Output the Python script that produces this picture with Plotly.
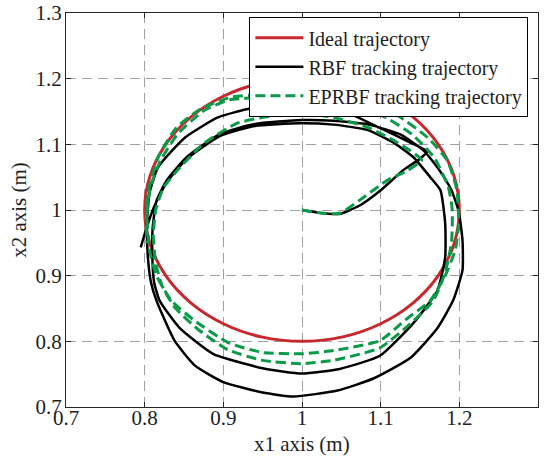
import plotly.graph_objects as go

# Ideal trajectory (circle, centre (1,1), radius 0.2)
ideal_x = [1.2, 1.1932, 1.1732, 1.1414, 1.1, 1.0518, 1.0, 0.9482, 0.9, 0.8586, 0.8268, 0.8068, 0.8,
           0.8068, 0.8268, 0.8586, 0.9, 0.9482, 1.0, 1.0518, 1.1, 1.1414, 1.1732, 1.1932, 1.2]
ideal_y = [1.0, 1.0518, 1.1, 1.1414, 1.1732, 1.1932, 1.2, 1.1932, 1.1732, 1.1414, 1.1, 1.0518, 1.0,
           0.9482, 0.9, 0.8586, 0.8268, 0.8068, 0.8, 0.8068, 0.8268, 0.8586, 0.9, 0.9482, 1.0]

# RBF tracking trajectory
rbf_x = [1.0, 1.02, 1.048, 1.075, 1.10, 1.129, 1.15, 1.159,
         1.137, 1.099, 1.052, 1.0, 0.976, 0.935, 0.893, 0.851, 0.817, 0.806,
         0.803, 0.804, 0.808, 0.815, 0.838, 0.864, 0.9, 0.95, 0.989, 1.045,
         1.09, 1.138, 1.172, 1.192, 1.204, 1.204, 1.199, 1.19, 1.175, 1.155,
         1.125, 1.085, 1.04, 1.0, 0.94, 0.896, 0.853, 0.828, 0.815, 0.81,
         0.81, 0.812, 0.819, 0.844, 0.887, 0.95, 1.0, 1.048, 1.099, 1.141,
         1.172, 1.182, 1.182, 1.176, 1.163, 1.142, 1.116, 1.083, 1.04, 0.997,
         0.94, 0.896, 0.853, 0.828, 0.812, 0.803, 0.795]
rbf_y = [1.0, 0.996, 0.994, 1.008, 1.03, 1.061, 1.078, 1.089,
         1.103, 1.125, 1.151, 1.161, 1.162, 1.155, 1.141, 1.11, 1.065, 1.025,
         0.98, 0.93, 0.89, 0.862, 0.801, 0.763, 0.738, 0.722, 0.716, 0.725,
         0.743, 0.775, 0.82, 0.862, 0.908, 0.954, 0.999, 1.03, 1.06, 1.09,
         1.115, 1.13, 1.136, 1.137, 1.131, 1.116, 1.08, 1.045, 1.014, 0.97,
         0.92, 0.89, 0.862, 0.821, 0.781, 0.759, 0.751, 0.758, 0.778, 0.827,
         0.877, 0.928, 0.98, 1.03, 1.05, 1.08, 1.103, 1.122, 1.13, 1.132,
         1.128, 1.113, 1.077, 1.042, 1.005, 0.975, 0.943]

# EPRBF tracking trajectory
ep_x = [1.0, 1.027, 1.048, 1.078, 1.108, 1.134, 1.152,
        1.138, 1.112, 1.083, 1.04, 0.997, 0.96, 0.917, 0.875, 0.845, 0.824,
        0.814, 0.811, 0.814, 0.822, 0.838, 0.868, 0.906, 0.95, 1.0, 1.04,
        1.099, 1.138, 1.167, 1.182, 1.19, 1.191, 1.186, 1.168, 1.14, 1.10,
        1.05, 1.0, 0.95, 0.908, 0.875, 0.842, 0.82, 0.807, 0.803, 0.806,
        0.815, 0.834, 0.863, 0.906, 0.95, 1.0, 1.04, 1.099, 1.134, 1.163,
        1.182, 1.195, 1.199, 1.197, 1.185, 1.16, 1.12, 1.08, 1.0, 0.95,
        0.91, 0.87, 0.84, 0.817, 0.805, 0.802, 0.803]
ep_y = [1.0, 0.995, 0.995, 1.019, 1.045, 1.06, 1.076,
        1.09, 1.109, 1.126, 1.141, 1.147, 1.143, 1.132, 1.101, 1.065, 1.034,
        1.0, 0.96, 0.92, 0.885, 0.852, 0.818, 0.787, 0.771, 0.766, 0.771,
        0.79, 0.827, 0.862, 0.905, 0.95, 1.0, 1.035, 1.08, 1.115, 1.145,
        1.163, 1.171, 1.171, 1.168, 1.151, 1.116, 1.075, 1.034, 0.99, 0.94,
        0.9, 0.862, 0.832, 0.798, 0.783, 0.781, 0.786, 0.801, 0.835, 0.862,
        0.9, 0.94, 0.98, 1.03, 1.075, 1.11, 1.145, 1.163, 1.177, 1.176,
        1.172, 1.153, 1.125, 1.08, 1.03, 0.98, 0.95]

tick_vals = [0.7, 0.8, 0.9, 1.0, 1.1, 1.2, 1.3]
tick_text = ["0.7", "0.8", "0.9", "1", "1.1", "1.2", "1.3"]
x_title = "x1 axis (m)"
y_title = "x2 axis (m)"

FONT = "Liberation Serif, Times New Roman, serif"
TXT = "#1e1e1e"

fig = go.Figure()
fig.add_trace(go.Scatter(x=ideal_x, y=ideal_y, mode="lines", name="Ideal trajectory",
                         line=dict(color="#c8282d", width=3, shape="spline", smoothing=1.0)))
fig.add_trace(go.Scatter(x=rbf_x, y=rbf_y, mode="lines", name="RBF tracking trajectory",
                         line=dict(color="#000000", width=2.5, shape="spline", smoothing=0.5)))
fig.add_trace(go.Scatter(x=ep_x, y=ep_y, mode="lines", name="EPRBF tracking trajectory",
                         line=dict(color="#0a9a48", width=3, dash="10px,5px", shape="spline", smoothing=0.5)))

axis_common = dict(
    range=[0.7, 1.3], tickvals=tick_vals, ticktext=tick_text,
    showline=True, linecolor="#262626", linewidth=1.3, mirror="ticks",
    ticks="inside", ticklen=5, tickcolor="#262626",
    showgrid=True, gridcolor="#a0a0a0", gridwidth=1, griddash="10px,6px",
    zeroline=False, automargin=False,
    tickfont=dict(family=FONT, size=21, color=TXT),
)

fig.update_layout(
    width=548, height=456,
    margin=dict(l=66, r=10, t=13, b=49),
    font=dict(family=FONT, size=21, color=TXT),
    paper_bgcolor="white", plot_bgcolor="white",
    xaxis=dict(**axis_common, ticklabelstandoff=-8),
    yaxis=dict(**axis_common, ticklabelstandoff=-1),
    legend=dict(x=0.979, y=0.99, xanchor="right", yanchor="top",
                bgcolor="white", bordercolor="#000", borderwidth=1.3,
                font=dict(family=FONT, size=20, color=TXT),
                tracegroupgap=0, itemwidth=48),
    showlegend=True,
    annotations=[
        dict(text=x_title, xref="paper", yref="paper", x=0.5, y=-0.094,
             xanchor="center", yanchor="middle", showarrow=False,
             font=dict(family=FONT, size=21, color=TXT)),
        dict(text=y_title, xref="paper", yref="paper", x=-0.1, y=0.5,
             xanchor="center", yanchor="middle", showarrow=False, textangle=-90,
             font=dict(family=FONT, size=21, color=TXT)),
    ],
)

fig.write_html("out.html")
